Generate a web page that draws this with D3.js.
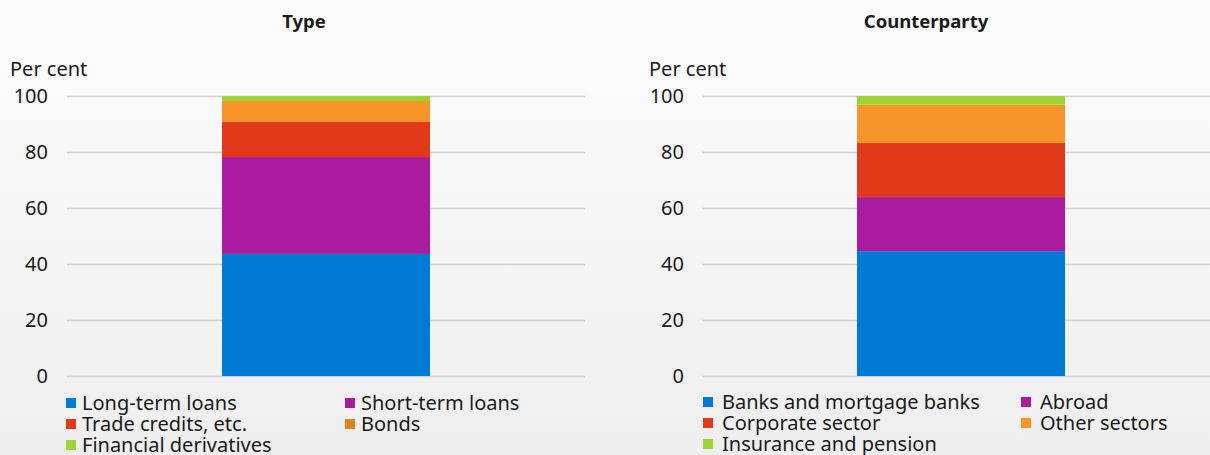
<!DOCTYPE html>
<html>
<head>
<meta charset="utf-8">
<script src="https://cdn.jsdelivr.net/npm/d3@7"></script>
<style>
  html, body { margin: 0; padding: 0; }
  body { width: 1210px; height: 455px; overflow: hidden; }
  svg text { font-family: "Noto Sans", "DejaVu Sans", sans-serif; fill: #1a1a1a; }
</style>
</head>
<body>
<svg id="chart" width="1210" height="455"></svg>
<script>
// Debt composition, per cent of total
const typeSeries = ["Long-term loans", "Short-term loans", "Trade credits, etc.", "Bonds", "Financial derivatives"];
const typeValues = [43.6, 34.6, 12.5, 7.5, 1.8];
const typeColors = ["#007ad4", "#aa1c9f", "#e2391a", "#f7942a", "#9ed334"];
const typeLegendColors = ["#007ad4", "#aa1c9f", "#e2391a", "#dd8425", "#9ed334"];

const cpSeries = ["Banks and mortgage banks", "Abroad", "Corporate sector", "Other sectors", "Insurance and pension"];
const cpValues = [44.6, 19.3, 19.3, 13.7, 3.1];
const cpColors = ["#007ad4", "#aa1c9f", "#e2391a", "#f7942a", "#9ed334"];

const yTicks = [0, 20, 40, 60, 80, 100];

const svg = d3.select("#chart");

// soft vertical background gradient
const defs = svg.append("defs");
const grad = defs.append("linearGradient").attr("id", "bg").attr("x1", 0).attr("y1", 0).attr("x2", 0).attr("y2", 1);
grad.append("stop").attr("offset", "0%").attr("stop-color", "#fcfcfc");
grad.append("stop").attr("offset", "100%").attr("stop-color", "#eeeeee");
svg.append("rect").attr("width", 1210).attr("height", 455).attr("fill", "url(#bg)");

function panel(opts) {
  const g = svg.append("g");
  const y = d3.scaleLinear().domain([0, 100]).range([376, 96]);
  const x = d3.scaleBand().domain(["all"]).range([opts.x0, opts.x1]).paddingInner(0).paddingOuter(opts.pad);

  g.append("text").attr("x", opts.titleX).attr("y", 28)
    .attr("text-anchor", "middle").attr("font-size", 18.5).attr("font-weight", "bold")
    .attr("fill", "#2a2a2a")
    .text(opts.title);

  g.append("text").attr("x", opts.unitX).attr("y", 76).attr("font-size", 20).text("Per cent");

  const axis = d3.axisLeft(y).tickValues(yTicks).tickSize(-(opts.x1 - opts.x0)).tickPadding(0);
  const ag = g.append("g").attr("transform", `translate(${opts.x0},0)`).call(axis);
  ag.select(".domain").remove();
  ag.selectAll(".tick line").attr("stroke", "#d2d2d2").attr("stroke-width", 1.5);
  ag.selectAll(".tick text").attr("x", opts.labelX - opts.x0).attr("dy", "0.32em")
    .attr("font-size", 20).attr("fill", "#1a1a1a")
    .style("font-family", '"Noto Sans", "DejaVu Sans", sans-serif');

  const stacked = [];
  let acc = 0;
  opts.values.forEach((v, i) => { stacked.push({ y0: acc, y1: acc + v, c: opts.colors[i] }); acc += v; });
  g.selectAll("rect.seg").data(stacked).join("rect").attr("class", "seg")
    .attr("x", x("all")).attr("width", x.bandwidth())
    .attr("y", d => y(d.y1)).attr("height", d => y(d.y0) - y(d.y1))
    .attr("fill", d => d.c);

  const lg = g.append("g");
  opts.series.forEach((s, i) => {
    const col = i % 2, row = Math.floor(i / 2);
    const lx = opts.legX[col], ly = opts.legY + row * 21;
    lg.append("rect").attr("x", lx).attr("y", ly - 5).attr("width", 10).attr("height", 10)
      .attr("fill", opts.legendColors[i]);
    lg.append("text").attr("x", lx + opts.legGap).attr("y", ly + 7).attr("font-size", 20).text(s);
  });
}

panel({
  title: "Type", titleX: 304, unitX: 10, labelX: 48,
  x0: 67, x1: 585, pad: 0.745,
  values: typeValues, colors: typeColors, legendColors: typeLegendColors, series: typeSeries,
  legX: [66, 345], legGap: 16, legY: 403
});

panel({
  title: "Counterparty", titleX: 926, unitX: 649, labelX: 684,
  x0: 702, x1: 1220, pad: 0.745,
  values: cpValues, colors: cpColors, legendColors: cpColors, series: cpSeries,
  legX: [703, 1021], legGap: 19, legY: 402
});
</script>
</body>
</html>
